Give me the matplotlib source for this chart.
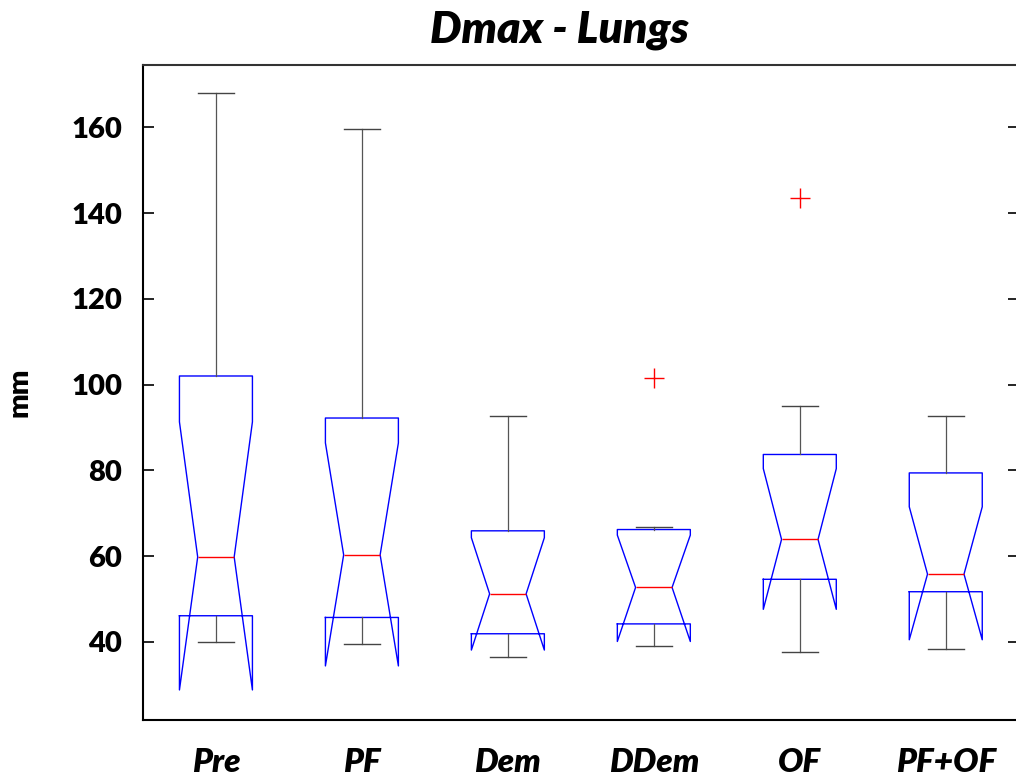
import matplotlib.pyplot as plt

plt.rcParams['font.family'] = ['Lato', 'DejaVu Sans']

groups = ["Pre", "PF", "Dem", "DDem", "OF", "PF+OF"]
whislo = [40.0, 39.5, 36.5, 39.1, 37.6, 38.4]
q1 = [46.1, 45.7, 41.9, 44.2, 54.6, 51.7]
med = [59.8, 60.3, 51.2, 52.7, 63.9, 55.8]
q3 = [102.0, 92.2, 65.9, 66.2, 83.7, 79.4]
whishi = [167.9, 159.5, 92.7, 66.9, 95.1, 92.7]
cilo = [28.8, 34.4, 38.1, 40.1, 47.6, 40.5]
cihi = [91.3, 86.4, 64.3, 64.9, 80.4, 71.5]
fliers = [[], [], [], [101.5], [143.5], []]

stats = []
for i, name in enumerate(groups):
    stats.append(dict(label=name, whislo=whislo[i], q1=q1[i], med=med[i],
                      q3=q3[i], whishi=whishi[i], cilo=cilo[i], cihi=cihi[i],
                      fliers=fliers[i]))

fig = plt.figure(figsize=(10.16, 7.76), dpi=100)
ax = fig.add_axes([0.1407, 0.0722, 0.862, 0.844])

ax.bxp(stats, positions=range(1, 7), widths=0.5, shownotches=True,
       boxprops=dict(color='blue', linewidth=1.0),
       medianprops=dict(color='red', linewidth=1.0),
       whiskerprops=dict(color='#555555', linewidth=0.9),
       capprops=dict(color='#444444', linewidth=1.0),
       flierprops=dict(marker='+', markeredgecolor='red', markersize=14,
                       markeredgewidth=1.0, linestyle='none'))

ax.set_xlim(0.5, 6.5)
ax.set_ylim(21.8, 174.5)
ax.set_yticks([40, 60, 80, 100, 120, 140, 160])

ax.tick_params(axis='y', direction='in', length=8, width=1.2, right=True,
               pad=15, labelsize=21)
ax.tick_params(axis='x', length=0, pad=20, labelsize=24)
for lbl in ax.get_yticklabels():
    lbl.set_fontweight('heavy')
for lbl in ax.get_xticklabels():
    lbl.set_fontweight('heavy')
    lbl.set_fontstyle('italic')

for side in ['left', 'bottom', 'top', 'right']:
    ax.spines[side].set_linewidth(1.5)
ax.spines['top'].set_color('#333333')

ax.set_ylabel('mm', fontsize=21, fontweight='heavy', labelpad=28)
fig.text(0.551, 0.961, 'Dmax - Lungs', ha='center', va='center',
         fontsize=32, fontweight='heavy', fontstyle='italic')

fig.savefig('out.png', dpi=100)
